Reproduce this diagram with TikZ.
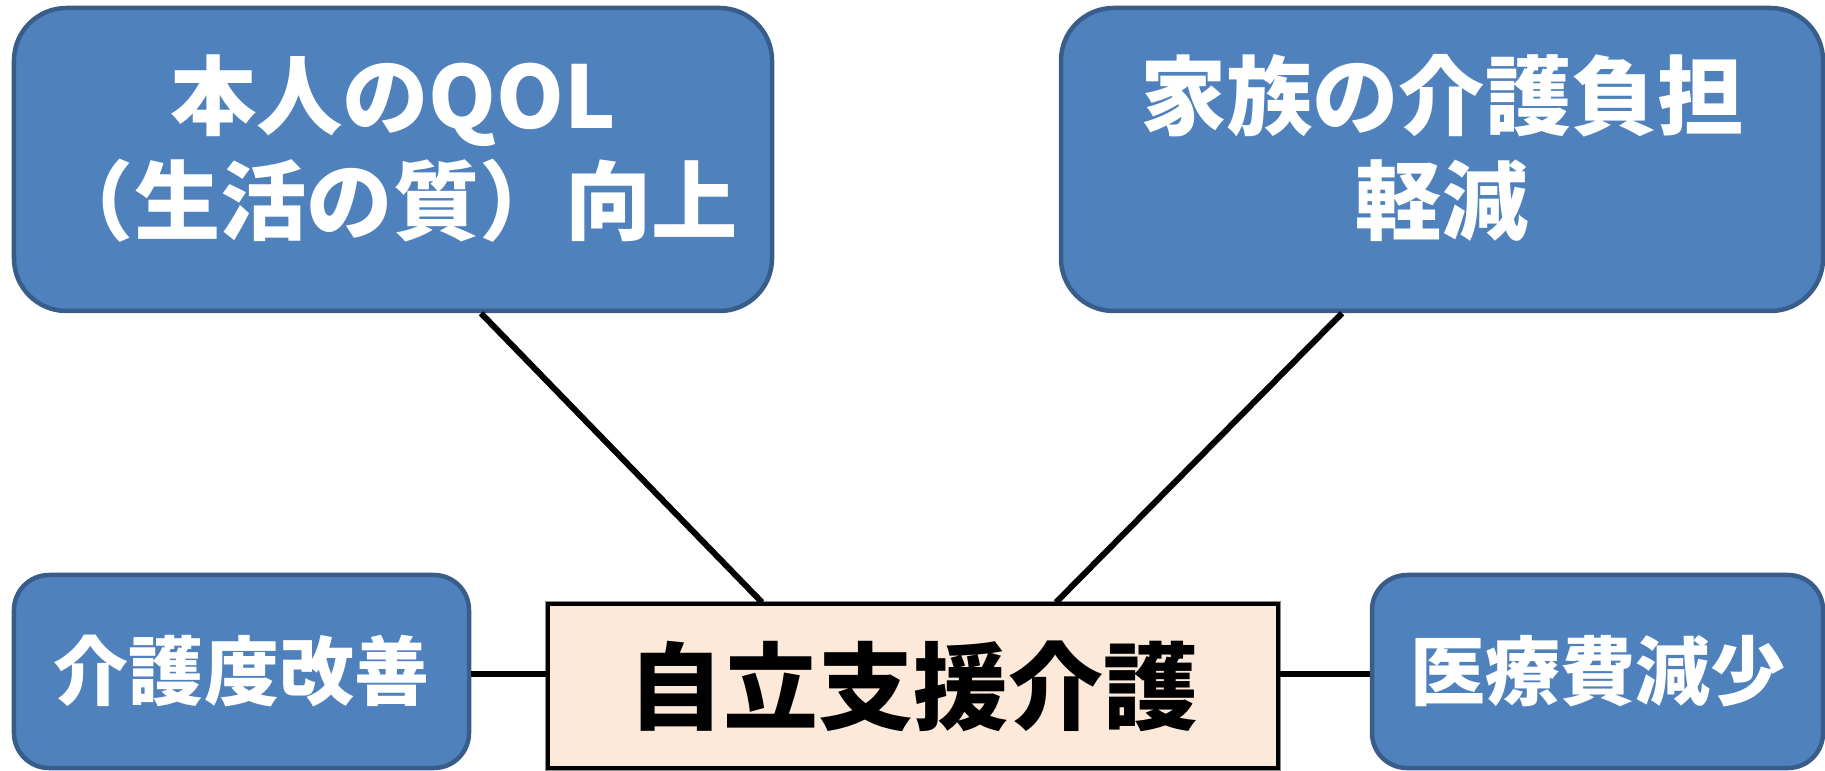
\documentclass[tikz,border=0pt]{standalone}
\usepackage{fontspec}
\newfontfamily\jp{Noto Sans CJK JP}
\definecolor{boxblue}{HTML}{4F81BD}
\definecolor{boxedge}{HTML}{385D8A}
\definecolor{centerfill}{HTML}{FDE9D9}
\newcommand{\upby}[2]{\raisebox{#1}{\begin{tabular}{@{}c@{}}#2\end{tabular}}}
\tikzset{
  bluebox/.style={draw=boxedge, fill=boxblue, line width=1.8pt, text=white,
    align=center, inner sep=0pt, font=\jp\bfseries},
  centerbox/.style={draw=black, fill=centerfill, line width=1.3pt,
    preaction={draw=black!45, line width=2.2pt}, text=black, align=center,
    inner sep=0pt, minimum width=292pt, minimum height=65.6pt,
    font=\jp\bfseries\fontsize{38}{46}\selectfont},
  link/.style={draw=black, line width=2.4pt}
}
\begin{document}
\begin{tikzpicture}[x=0.4pt,y=-0.4pt]
\useasboundingbox (0,0) rectangle (1825,771);
\node[bluebox, rounded corners=21pt, minimum width=303.2pt, minimum height=121.2pt,
  font=\jp\bfseries\fontsize{34.5}{41.5}\selectfont] (tl) at (393,159.5)
  {\upby{4.6pt}{本人のQOL\\（生活の質）向上}};
\node[bluebox, rounded corners=21pt, minimum width=304.8pt, minimum height=121.2pt,
  font=\jp\bfseries\fontsize{34.5}{41.5}\selectfont] (tr) at (1442,159.5)
  {\upby{4.6pt}{家族の介護負担\\軽減}};
\node[bluebox, rounded corners=14pt, minimum width=182pt, minimum height=77.2pt,
  font=\jp\bfseries\fontsize{30}{36}\selectfont] (bl) at (241.5,671.5) {\raisebox{3pt}{介護度改善}};
\node[bluebox, rounded corners=14pt, minimum width=180.4pt, minimum height=77.2pt,
  font=\jp\bfseries\fontsize{30}{36}\selectfont] (br) at (1597.5,671.5) {\raisebox{3pt}{医療費減少}};
\node[centerbox] (c) at (913,686) {自立支援介護};
\draw[link] ([xshift=35.2pt]tl.south) -- ([xshift=-60.4pt]c.north);
\draw[link] ([xshift=-40pt]tr.south) -- ([xshift=57.2pt]c.north);
\draw[link] ([yshift=-1pt]bl.east) -- ([yshift=-1pt]c.west |- bl.east);
\draw[link] ([yshift=-1pt]c.east |- br.west) -- ([yshift=-1pt]br.west);
\end{tikzpicture}
\end{document}
